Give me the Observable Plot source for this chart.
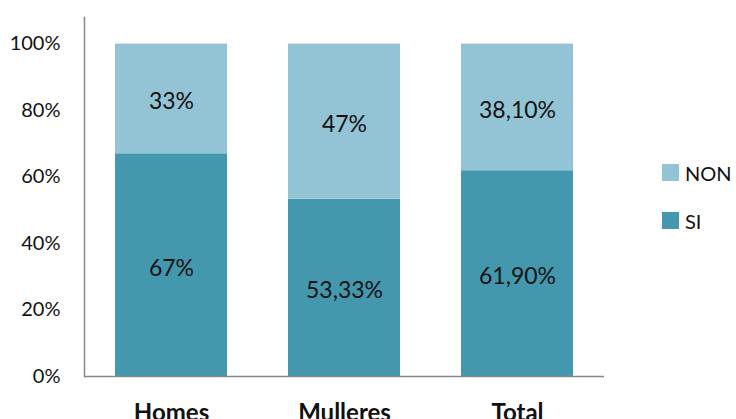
<!DOCTYPE html>
<html>
<head>
<meta charset="utf-8">
<script src="https://cdn.jsdelivr.net/npm/d3@7"></script>
<script src="https://cdn.jsdelivr.net/npm/@observablehq/plot@0.6"></script>
<style>
  html, body { margin: 0; padding: 0; background: #fff; }
  #wrap { position: relative; width: 736px; height: 419px; overflow: hidden; font-family: Lato, "Open Sans", sans-serif; }
  #legend { position: absolute; left: 662px; top: 163px; font-size: 20px; color: #111; }
  .li { display: flex; align-items: center; height: 19px; margin-bottom: 29px; }
  .sw { width: 17px; height: 17px; margin-right: 6px; }
</style>
</head>
<body>
<div id="wrap"><div id="legend"></div></div>
<script>
const categories = ["Homes", "Mulleres", "Total"];
const series = ["SI", "NON"];
const siValues = [67, 53.33, 61.90];
const nonValues = [33, 46.67, 38.10];
const siLabels = ["67%", "53,33%", "61,90%"];
const nonLabels = ["33%", "47%", "38,10%"];
const yTicks = [0, 20, 40, 60, 80, 100];
const seriesColors = ["#4398ae", "#93c4d6"];

const data = [];
categories.forEach((c, i) => {
  data.push({cat: c, s: "SI", v: siValues[i], label: siLabels[i]});
  data.push({cat: c, s: "NON", v: nonValues[i], label: nonLabels[i]});
});

const chart = Plot.plot({
  width: 736,
  height: 419,
  marginLeft: 84,
  marginRight: 132,
  marginTop: 17,
  marginBottom: 43,
  style: {fontFamily: "Lato, 'Open Sans', sans-serif", fontSize: "20px", color: "#111", background: "#fff"},
  x: {domain: categories, paddingInner: 0.355, paddingOuter: 0.1775, label: null},
  y: {domain: [0, 108], label: null},
  color: {domain: series, range: seriesColors},
  marks: [
    Plot.barY(data, Plot.stackY({x: "cat", y: "v", z: "s", fill: "s", order: series})),
    Plot.text(data, Plot.stackY({x: "cat", y: "v", z: "s", text: "label", order: series, fontSize: 23, fill: "#111", dy: 3})),
    Plot.axisY({ticks: yTicks, tickSize: 0, tickPadding: 24, tickFormat: d => d + "%", fontSize: 20, label: null}),
    Plot.axisX({tickSize: 0, tickPadding: 27, fontWeight: "bold", fontSize: 24, label: null}),
    Plot.frame({anchor: "left", stroke: "#868686", strokeWidth: 1.5}),
    Plot.ruleY([0], {stroke: "#868686", strokeWidth: 1.5})
  ]
});
document.getElementById("wrap").prepend(chart);

const legend = document.getElementById("legend");
["NON", "SI"].forEach(s => {
  const row = document.createElement("div");
  row.className = "li";
  row.innerHTML = `<div class="sw" style="background:${seriesColors[series.indexOf(s)]}"></div><span>${s}</span>`;
  legend.appendChild(row);
});
</script>
</body>
</html>
